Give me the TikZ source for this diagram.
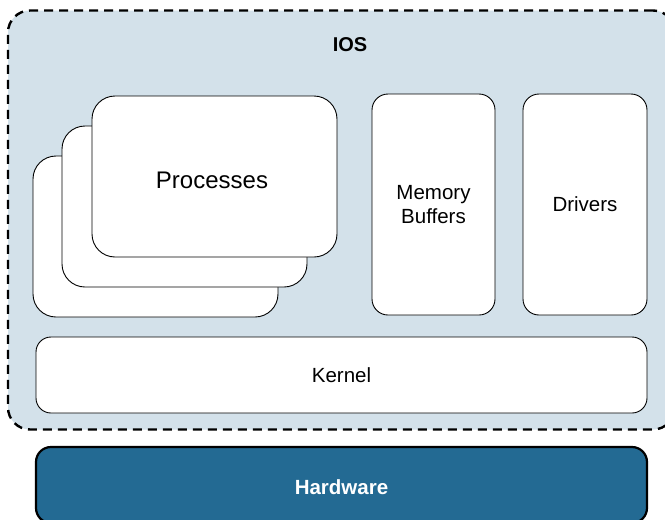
\documentclass[tikz,border=0pt]{standalone}
\usepackage{fontspec}
\setmainfont{Liberation Sans}
\definecolor{iosfill}{HTML}{D3E1EA}
\definecolor{hwfill}{HTML}{236A93}
\begin{document}
\begin{tikzpicture}[x=1pt,y=-1pt,
  card/.style={draw=black, fill=white, line width=0.9pt, rounded corners=23pt, inner sep=0pt, outer sep=0pt},
  tall/.style={draw=black, fill=white, line width=0.9pt, rounded corners=16pt, inner sep=0pt, outer sep=0pt, align=center, font=\fontsize{20.5}{24}\selectfont},
  flat/.style={draw=black, line width=0.9pt, rounded corners=15pt, inner sep=0pt, outer sep=0pt, font=\fontsize{20.5}{24}\selectfont},
  outer/.style={draw=black, fill=iosfill, line width=2.4pt, dash pattern=on 9pt off 6pt, rounded corners=22pt, inner sep=0pt, outer sep=0pt}]
\useasboundingbox (0,0) rectangle (665,520);
\begin{scope}
\clip (0,0) rectangle (665,520);
\node[outer, minimum width=667pt, minimum height=419pt] (ios) at (341.5,220) {};
\node[flat, fill=hwfill, text=white, line width=2.2pt, minimum width=611pt, minimum height=76pt, font=\bfseries\fontsize{20.5}{24}\selectfont] (hw) at (341.5,485) {};
\end{scope}
\node[white, font=\bfseries\fontsize{20.5}{24}\selectfont] (hwlabel) at (341.5,487) {Hardware};
\node[font=\bfseries\fontsize{20}{24}\selectfont] (iostitle) at (350,45) {IOS};
\node[card, minimum width=245pt, minimum height=161pt] (back) at (155.5,236.5) {};
\node[card, minimum width=245pt, minimum height=161pt] (mid) at (184.5,206.5) {};
\node[card, minimum width=245pt, minimum height=161pt] (front) at (214.5,176.5) {};
\node[font=\fontsize{24}{28}\selectfont] (proc) at (212,180) {Processes};
\node[tall, minimum width=123pt, minimum height=221pt] (mem) at (433.5,204.5) {Memory\\Buffers};
\node[tall, minimum width=124pt, minimum height=221pt] (drv) at (585,204.5) {Drivers};
\node[flat, fill=white, minimum width=611pt, minimum height=76pt] (kern) at (341.5,375) {Kernel};
\end{tikzpicture}
\end{document}
